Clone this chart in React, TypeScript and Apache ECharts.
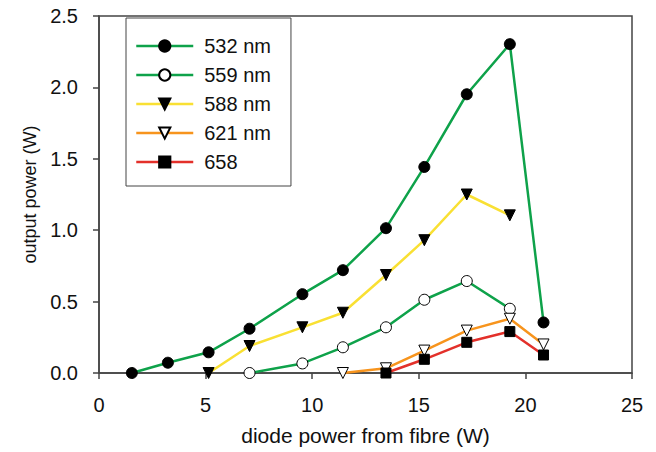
import React, { useEffect, useRef } from "react";
import * as echarts from "echarts";

const diodePower = [1.54, 3.23, 5.14, 7.06, 9.54, 11.44, 13.46, 15.26, 17.25, 19.27, 20.85];
const p532 = [0, 0.072, 0.145, 0.31, 0.552, 0.72, 1.014, 1.443, 1.952, 2.303, 0.354];
const p559 = [null, null, null, 0, 0.067, 0.18, 0.32, 0.513, 0.644, 0.45, null];
const p588 = [null, null, 0, 0.189, 0.32, 0.422, 0.686, 0.93, 1.25, 1.104, null];
const p621 = [null, null, null, null, null, 0, 0.033, 0.157, 0.297, 0.38, 0.2];
const p658 = [null, null, null, null, null, null, 0, 0.096, 0.215, 0.29, 0.126];
const seriesNames = ["532 nm", "559 nm", "588 nm", "621 nm", "658"];
const xAxisName = "diode power from fibre (W)";
const yAxisName = "output power (W)";

const FONT = "'Liberation Sans', Arial, Helvetica, sans-serif";

function pairs(ys: (number | null)[]) {
  const out: [number, number][] = [];
  ys.forEach((y, i) => {
    if (y !== null) out.push([diodePower[i], y]);
  });
  return out;
}

export default function App() {
  const ref = useRef<HTMLDivElement>(null);
  useEffect(() => {
    if (!ref.current) return;
    const chart = echarts.init(ref.current, undefined, { renderer: "svg" });
    const mk = (
      name: string,
      ys: (number | null)[],
      lineColor: string,
      symbol: string,
      rotate: number,
      fill: string,
      size: number
    ) => ({
      name,
      type: "line",
      data: pairs(ys),
      symbol,
      symbolSize: size,
      symbolRotate: rotate,
      showAllSymbol: true,
      lineStyle: { color: lineColor, width: 2.5 },
      itemStyle: { color: fill, borderColor: "#000", borderWidth: 1 },
      emphasis: { disabled: true },
    });
    chart.setOption({
      animation: false,
      textStyle: { fontFamily: FONT },
      grid: {
        left: 99,
        right: 24,
        top: 16,
        bottom: 79,
        show: true,
        borderColor: "#444",
        borderWidth: 1.5,
      },
      legend: {
        orient: "vertical",
        left: 126,
        top: 18,
        padding: [18, 20, 14, 9],
        borderColor: "#444",
        borderWidth: 1,
        itemWidth: 57,
        itemHeight: 14,
        itemGap: 9,
        data: seriesNames,
        lineStyle: { width: 2.5 },
        textStyle: { fontSize: 20, color: "#111", fontFamily: FONT, padding: [0, 0, 0, 6] },
      },
      xAxis: {
        type: "value",
        min: 0,
        max: 25,
        interval: 5,
        name: xAxisName,
        nameLocation: "middle",
        nameGap: 52,
        nameTextStyle: { fontSize: 21, color: "#111", fontFamily: FONT },
        axisLine: { onZero: false, lineStyle: { color: "#444", width: 1.5 } },
        axisTick: { show: true, length: 6, lineStyle: { color: "#444", width: 1.5 } },
        axisLabel: { fontSize: 20, color: "#111", margin: 22, fontFamily: FONT },
        splitLine: { show: false },
      },
      yAxis: {
        type: "value",
        min: 0,
        max: 2.5,
        interval: 0.5,
        name: yAxisName,
        nameLocation: "middle",
        nameGap: 60,
        nameTextStyle: { fontSize: 18, color: "#111", fontFamily: FONT },
        axisLine: { show: true, lineStyle: { color: "#444", width: 1.5 } },
        axisTick: { show: true, length: 6, lineStyle: { color: "#444", width: 1.5 } },
        axisLabel: {
          fontSize: 20,
          color: "#111",
          margin: 21,
          fontFamily: FONT,
          formatter: (v: number) => v.toFixed(1),
        },
        splitLine: { show: false },
      },
      series: [
        mk(seriesNames[0], p532, "#0ea24a", "circle", 0, "#000", 11),
        mk(seriesNames[1], p559, "#0ea24a", "circle", 0, "#fff", 11),
        mk(seriesNames[2], p588, "#f9e033", "triangle", 180, "#000", 11),
        mk(seriesNames[3], p621, "#f7941d", "triangle", 180, "#fff", 11),
        mk(seriesNames[4], p658, "#e3302a", "rect", 0, "#000", 10),
      ],
    });
    return () => chart.dispose();
  }, []);
  return (
    <div
      ref={ref}
      style={{ position: "absolute", left: 0, top: 0, width: 656, height: 452, background: "#fff" }}
    />
  );
}
